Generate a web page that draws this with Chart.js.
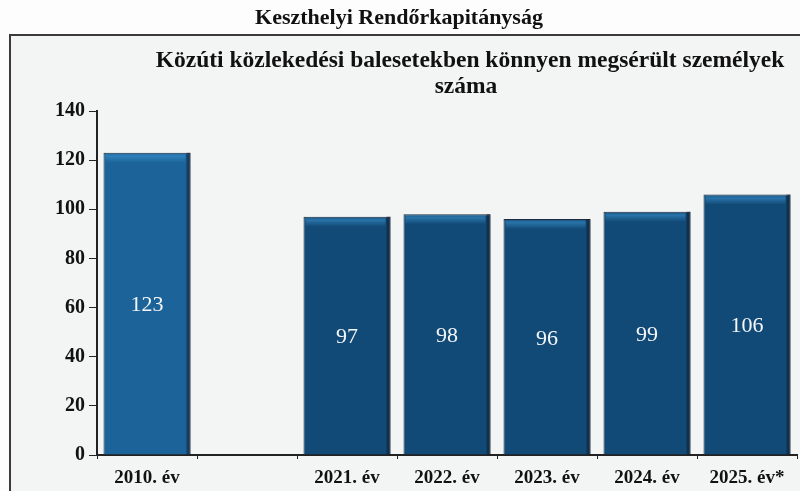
<!DOCTYPE html>
<html lang="hu">
<head>
<meta charset="UTF-8">
<title>Keszthelyi Rendőrkapitányság</title>
<script src="https://cdn.jsdelivr.net/npm/chart.js"></script>
<style>
  html, body { margin: 0; padding: 0; background: #fdfdfd; }
  #wrap { width: 800px; height: 491px; }
</style>
</head>
<body>
<div id="wrap"><canvas id="chart" width="800" height="491"></canvas></div>
<script>
// data
const years = ['2010. év', '', '2021. év', '2022. év', '2023. év', '2024. év', '2025. év*'];
const injured = [123, null, 97, 98, 96, 99, 106];
const yTicks = [0, 20, 40, 60, 80, 100, 120, 140];

const mainTitle = 'Keszthelyi Rendőrkapitányság';
const subTitle = ['Közúti közlekedési balesetekben könnyen megsérült személyek', 'száma'];

const barColors = ['#1b6399', '#124a77', '#124a77', '#124a77', '#124a77', '#124a77', '#124a77'];
const serif = '"Liberation Serif", "Times New Roman", serif';

// frame + titles behind the chart
const framePlugin = {
  id: 'frame',
  beforeDraw(chart) {
    const c = chart.ctx;
    c.save();
    c.fillStyle = '#f3f4f4';
    c.fillRect(10, 35, 800, 460);
    c.strokeStyle = '#3a3a3a';
    c.lineWidth = 2;
    c.strokeRect(10, 35, 800, 470);
    c.fillStyle = '#111';
    c.textAlign = 'center';
    c.textBaseline = 'middle';
    c.font = 'bold 22px ' + serif;
    c.fillText(mainTitle, 399, 18);
    c.font = 'bold 23.5px ' + serif;
    c.fillText(subTitle[0], 470, 61);
    c.fillText(subTitle[1], 466, 87);
    c.restore();
  }
};

// highlight strip on top of bars and value labels
const labelPlugin = {
  id: 'labels',
  afterDatasetsDraw(chart) {
    const c = chart.ctx;
    const meta = chart.getDatasetMeta(0);
    c.save();
    meta.data.forEach((bar, i) => {
      if (injured[i] == null) return;
      const half = bar.width / 2;
      const g = c.createLinearGradient(0, bar.y, 0, bar.y + 10);
      g.addColorStop(0, 'rgba(60,150,210,0.15)');
      g.addColorStop(0.35, 'rgba(60,150,210,0.55)');
      g.addColorStop(1, 'rgba(60,150,210,0)');
      c.fillStyle = g;
      c.fillRect(bar.x - half + 2, bar.y + 1, bar.width - 7, 10);
      c.fillStyle = 'rgba(15,25,40,0.5)';
      c.fillRect(bar.x + half - 4, bar.y, 4, bar.base - bar.y);
      c.fillStyle = '#f4f6f8';
      c.font = '22px ' + serif;
      c.textAlign = 'center';
      c.textBaseline = 'middle';
      c.fillText(String(injured[i]), bar.x, (bar.y + bar.base) / 2 + 2);
    });
    c.restore();
  }
};

new Chart(document.getElementById('chart'), {
  type: 'bar',
  data: {
    labels: years,
    datasets: [{
      data: injured,
      backgroundColor: barColors,
      borderColor: '#1d2b3a',
      borderWidth: 1,
      categoryPercentage: 1,
      barPercentage: 0.87
    }]
  },
  options: {
    responsive: false,
    animation: false,
    layout: { padding: { top: 111, right: 3, left: 0, bottom: 0 } },
    plugins: {
      legend: { display: false },
      tooltip: { enabled: false }
    },
    scales: {
      x: {
        offset: true,
        afterFit(scale) { scale.height = 36; },
        grid: {
          offset: true,
          drawOnChartArea: false,
          drawTicks: true,
          tickLength: 4,
          color: '#222'
        },
        border: { color: '#222', width: 2 },
        ticks: {
          color: '#111',
          padding: 8,
          font: { family: serif, size: 19, weight: 'bold' }
        }
      },
      y: {
        min: 0,
        max: 140,
        afterFit(scale) { scale.width = 97; },
        afterBuildTicks(scale) { scale.ticks = yTicks.map(v => ({ value: v })); },
        grid: {
          drawOnChartArea: false,
          drawTicks: true,
          tickLength: 8,
          color: '#222'
        },
        border: { color: '#222', width: 2 },
        ticks: {
          color: '#111',
          padding: 4,
          font: { family: serif, size: 20, weight: 'bold' }
        }
      }
    }
  },
  plugins: [framePlugin, labelPlugin]
});
</script>
</body>
</html>
